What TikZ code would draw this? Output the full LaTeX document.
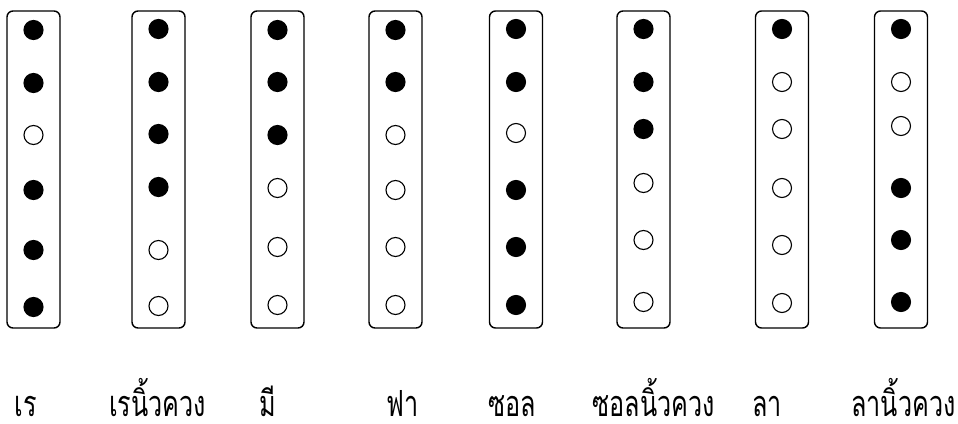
\documentclass[tikz,border=0pt]{standalone}
\usepackage{fontspec}
\newfontfamily\thaifont[Script=Thai,FakeStretch=0.70]{Loma}
\usetikzlibrary{positioning}

\begin{document}
\begin{tikzpicture}[x=1pt, y=-1pt,
  pipe/.style={draw,rounded corners=6pt,line width=1.4pt,minimum width=53pt,minimum height=317pt,inner sep=0pt},
  hole/.style={draw,circle,line width=1.1pt,minimum size=19pt,inner sep=0pt},
  shut/.style={hole,fill=black},
  tone/.style={font=\thaifont\fontsize{36}{40}\selectfont,anchor=base,inner sep=0pt,text depth=2pt}]
  \useasboundingbox (0,0) rectangle (958,423);
  % one pipe per note: x, holes (1 = closed / y), label x, name
  \foreach \c/\x/\p/\lx/\txt in {
      1/33.5/{1/30,1/83,0/135,1/190,1/250,1/307}/26/เร,
      2/158.5/{1/29,1/82,1/134,1/187,0/250,0/306}/157.5/เรนิ้วควง,
      3/277.5/{1/30,1/82,1/135,0/188,0/247,0/305}/267.5/มี,
      4/395.5/{1/30,1/82,0/135,0/190,0/247,0/305}/402.5/ฟา,
      5/516/{1/29,1/82,0/133,1/190,1/247,1/305}/512.5/ซอล,
      6/643.5/{1/29,1/82,1/129,0/183,0/240,0/302}/653.5/ซอลนิ้วควง,
      7/782/{1/29,0/82,0/129,0/188,0/245,0/303}/767/ลา,
      8/901/{1/29,0/82,0/126,1/188,1/240,1/302}/903.5/ลานิ้วควง}{
    \node[pipe] (p\c) at (\x,169.5) {};
    \foreach \s/\y [count=\r] in \p {
      \ifnum\s=1 \node[shut] (h\c-\r) at (\x,\y) {};
      \else \node[hole] (h\c-\r) at (\x,\y) {};\fi
    }
    \node[tone] (n\c) at (\lx,416) {\txt};
  }
\end{tikzpicture}
\end{document}
